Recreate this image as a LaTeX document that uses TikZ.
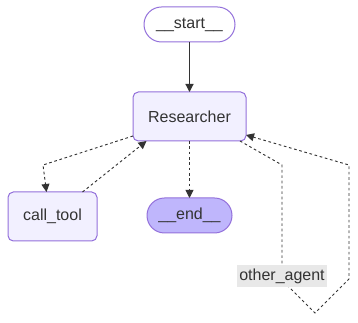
\documentclass[tikz,border=0pt]{standalone}
\usepackage{fontspec}
\setmainfont{Liberation Sans}
\usetikzlibrary{arrows.meta,calc}
\definecolor{nodefill}{HTML}{F2F0FF}
\definecolor{nodeline}{HTML}{9370DB}
\definecolor{endfill}{HTML}{BFB6FC}
\definecolor{ink}{HTML}{333333}
\definecolor{labelbg}{HTML}{E8E8E8}
\begin{document}
\begin{tikzpicture}[x=0.75pt,y=-0.75pt,
  font=\fontsize{12pt}{14pt}\selectfont,
  every node/.style={text=ink, inner sep=0pt, outer sep=0pt},
  box/.style={draw=nodeline, line width=0.75pt, fill=nodefill,
    rounded corners=4pt, minimum height=36.75pt},
  pill/.style={draw=nodeline, line width=0.75pt, rounded corners=13.1pt,
    minimum height=26.25pt},
  solidedge/.style={draw=ink, line width=0.9pt,
    -{Triangle[length=6pt,width=6pt]}},
  condedge/.style={draw=ink, line width=0.7pt,
    dash pattern=on 2pt off 2pt,
    -{Triangle[length=6pt,width=6pt]}},
  edgelabel/.style={fill=labelbg, minimum width=67.5pt, minimum height=16.5pt}
]
\useasboundingbox (0,0) rectangle (358,323);

% nodes
\node[pill, fill=white, minimum width=68.25pt] (start) at (189.5,24.5) {\_\_start\_\_};
\node[box, minimum width=84.75pt] (researcher) at (189.5,116.5) {Researcher};
\node[box, minimum width=66.75pt] (calltool) at (52.5,216.5) {call\_tool};
\node[pill, fill=endfill, minimum width=63.75pt] (end) at (189.5,215.5) {\_\_end\_\_};

% bend points of the conditional edges
\coordinate (ct1) at (43,165);
\coordinate (oa1) at (282,165);
\coordinate (oa2) at (282,280);
\coordinate (oa3) at (315,313);
\coordinate (oa4) at (349,279);
\coordinate (oa5) at (349,165);

% edges
\draw[solidedge] (start.south) -- (researcher.north);
\draw[condedge] ($(researcher.south west)+(0,-5)$) -- (ct1) -- ($(calltool.north)+(-6,0)$);
\draw[condedge] ($(calltool.north)+(30,0)$) -- ($(researcher.south)+(-43,0)$);
\draw[condedge] (researcher.south) -- (end.north);
\draw[condedge] ($(researcher.south east)+(-6,0)$) -- (oa1) -- (oa2) -- (oa3)
  -- (oa4) -- (oa5) -- ($(researcher.south east)+(0,-6)$);

% label of the self loop
\node[edgelabel] (otheragent) at (282,276.5) {other\_agent};
\end{tikzpicture}
\end{document}
